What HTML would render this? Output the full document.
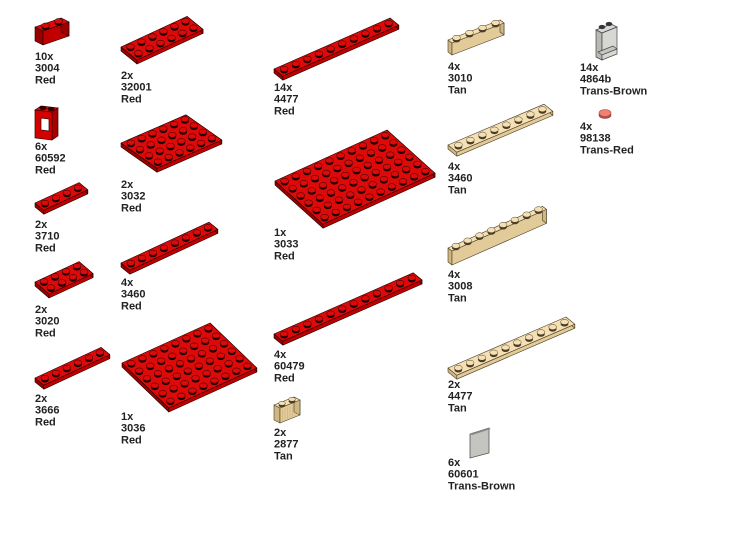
<!DOCTYPE html>
<html><head><meta charset="utf-8">
<style>
html,body{margin:0;padding:0;background:#fff;}
svg{display:block;}
text{font-family:"Liberation Sans",Arial,sans-serif;font-weight:bold;font-size:11px;fill:#222;}
</style></head>
<body>
<svg id="s" width="749" height="540" viewBox="0 0 749 540" xmlns="http://www.w3.org/2000/svg">
<rect width="749" height="540" fill="#fff"/>
<g stroke="#3a0000" stroke-width="0.7">
<polygon points="52,112 58,108 58,136 52,140" fill="#a80000"/>
<polygon points="35,110 41,106 58,108 52,112" fill="#e01010"/>
<polygon points="35,110 52,112 52,140 35,138" fill="#d40000"/>
<polygon points="41,118 49,119 49,131 41,130" fill="#fff"/>
<ellipse cx="43" cy="108" rx="3.2" ry="1.8" fill="#300"/>
<ellipse cx="51" cy="109" rx="3.2" ry="1.8" fill="#300"/>
</g>
<g stroke="#444" stroke-width="0.7">
<polygon points="596,30 611,24 617,27 602,33" fill="#d8d8d4"/>
<polygon points="596,30 602,33 602,60 596,57" fill="#b8b8b4"/>
<polygon points="602,33 617,27 617,54 602,60" fill="#d0d0cc" fill-opacity="0.85"/>
<polygon points="598,52 613,46 617,49 602,55" fill="#c4c4c0"/>
<ellipse cx="602" cy="27" rx="3" ry="1.8" fill="#333"/>
<ellipse cx="609" cy="24" rx="3" ry="1.8" fill="#333"/>
</g>
<ellipse cx="605" cy="115" rx="6" ry="3.5" fill="#c05040" stroke="#803030" stroke-width="0.6"/>
<ellipse cx="605" cy="113" rx="6" ry="3.5" fill="#f08070" stroke="#a04040" stroke-width="0.6"/>
<polygon points="470,434 489,428 489,453 470,458" fill="#c4c4c0" stroke="#555" stroke-width="0.8"/>
<polygon points="470,434 489,428 491,429 472,435" fill="#888" />
</svg>
<script>
var S=document.getElementById('s'),NS='http://www.w3.org/2000/svg';
function el(t,a){var e=document.createElementNS(NS,t);for(var k in a)e.setAttribute(k,a[k]);S.appendChild(e);return e;}
function P(p){return p.map(function(q){return q[0].toFixed(1)+','+q[1].toFixed(1)}).join(' ');}
var COL={r:['#dd0a0a','#c00000','#9a0000','#200000'],t:['#f4e0b4','#e2cb98','#cfb682','#4a3c24']};
function part(Lx,Ly,n,m,h,c,o){
 o=o||{};var u=o.u||[11,-5.1],v=o.v||[8.8,7.2];var C=COL[c];
 var A=[Lx,Ly],B=[Lx+n*u[0],Ly+n*u[1]],Cc=[B[0]+m*v[0],B[1]+m*v[1]],D=[Lx+m*v[0],Ly+m*v[1]];
 function dn(p){return [p[0],p[1]+h];}
 var sw={'stroke':C[3],'stroke-width':0.6,'stroke-linejoin':'round'};
 function poly(pts,f){var a={points:P(pts),fill:f};for(var k in sw)a[k]=sw[k];el('polygon',a);}
 poly([A,D,dn(D),dn(A)],C[2]);
 poly([D,Cc,dn(Cc),dn(D)],C[1]);
 poly([B,Cc,dn(Cc),dn(B)],C[2]);
 poly([A,B,Cc,D],C[0]);
 var rx=o.rx||3.9,ry=o.ry||2.6;
 for(var j=0;j<m;j++)for(var i=0;i<n;i++){
  var x=Lx+(i+.5)*u[0]+(j+.5)*v[0],y=Ly+(i+.5)*u[1]+(j+.5)*v[1];
  el('ellipse',{cx:x,cy:y+0.8,rx:rx,ry:ry,fill:C[3]});
  el('ellipse',{cx:x,cy:y-1.2,rx:rx,ry:ry,fill:C[0],stroke:C[3],'stroke-width':0.5});
 }
 if(o.grille){for(var k=1;k<8;k++){var gx=D[0]+k*(Cc[0]-D[0])/8,gy=D[1]+k*(Cc[1]-D[1])/8;el('line',{x1:gx,y1:gy+2,x2:gx,y2:gy+h-1,stroke:C[2],'stroke-width':0.7});}}
}
function lab(x,y,a){for(var i=0;i<a.length;i++){var t=el('text',{x:x,y:y+8+i*11.7});t.textContent=a[i];}}
part(35,27,2,1,14,'r',{u:[13,-4.5],v:[8,4]});
lab(35,52,['10x','3004','Red']);
lab(35,142,['6x','60592','Red']);
part(35,203,4,1,4,'r');lab(35,220,['2x','3710','Red']);
part(35,282,4,2,4,'r',{v:[7,6]});lab(35,305,['2x','3020','Red']);
part(35,378,6,1,4,'r');lab(35,394,['2x','3666','Red']);
part(121,47,6,2,4,'r',{v:[8,6.5]});lab(121,71,['2x','32001','Red']);
part(121,143,6,4,4,'r',{v:[9,6.3],u:[10.8,-4.7]});lab(121,180,['2x','3032','Red']);
part(121,263,8,1,4,'r');lab(121,278,['4x','3460','Red']);
part(122,363,8,6,4,'r',{v:[7.8,7.5],u:[11,-5]});lab(121,412,['1x','3036','Red']);
part(274,69,10,1,4,'r',{u:[11.6,-5.1]});lab(274,83,['14x','4477','Red']);
part(275,181,10,6,4,'r',{u:[11.2,-5.1],v:[8,7.2]});lab(274,228,['1x','3033','Red']);
part(274,334,12,1,4,'r',{u:[11.6,-5.1]});lab(274,350,['4x','60479','Red']);
part(274,405,2,1,15,'t',{u:[10,-4],v:[6,3],rx:3.4,ry:2,grille:1});lab(274,428,['2x','2877','Tan']);
part(448,40,4,1,12,'t',{u:[13,-5],v:[4,3]});lab(448,62,['4x','3010','Tan']);
part(448,145,8,1,4,'t',{u:[12,-5.1]});lab(448,162,['4x','3460','Tan']);
part(448,248,8,1,14,'t',{u:[11.8,-5.2],v:[4,3]});lab(448,270,['4x','3008','Tan']);
part(448,368,10,1,4,'t',{u:[11.8,-5.1]});lab(448,380,['2x','4477','Tan']);
lab(448,458,['6x','60601','Trans-Brown']);
lab(580,63,['14x','4864b','Trans-Brown']);
lab(580,122,['4x','98138','Trans-Red']);
</script>
</body></html>
